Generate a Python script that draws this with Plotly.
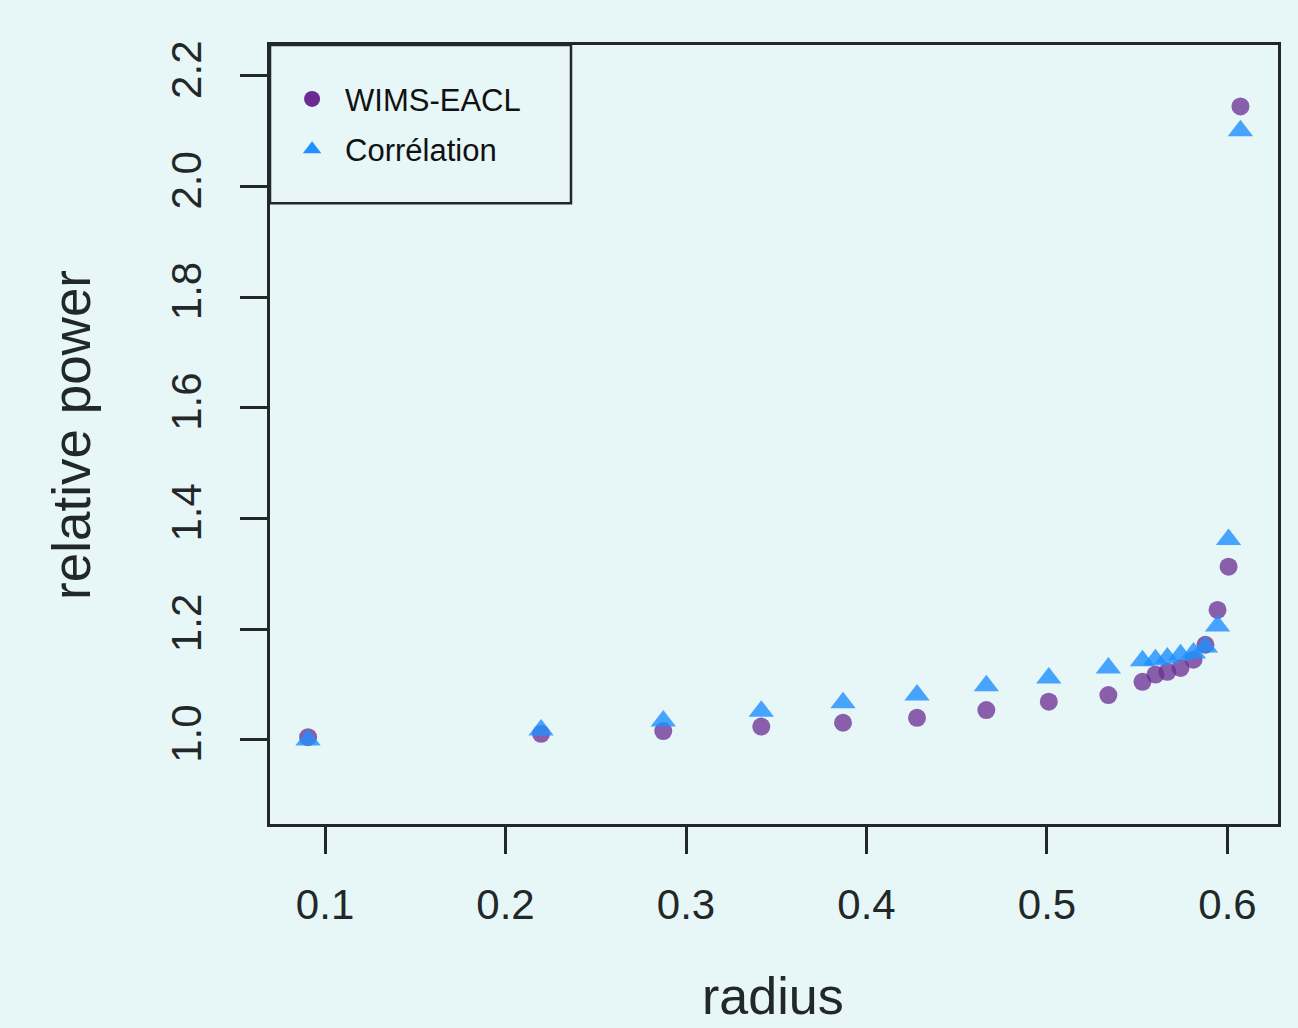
import plotly.graph_objects as go

radius = [0.0906, 0.2197, 0.2874, 0.3417, 0.3870, 0.4280, 0.4664, 0.5010, 0.5340,
          0.5529, 0.5601, 0.5667, 0.5740, 0.5812, 0.5878, 0.5945, 0.6006, 0.6072]
wims_eacl = [1.005, 1.011, 1.016, 1.024, 1.031, 1.040, 1.054, 1.069, 1.081,
             1.105, 1.118, 1.123, 1.130, 1.145, 1.172, 1.235, 1.313, 2.145]
correlation = [1.000, 1.018, 1.034, 1.052, 1.067, 1.081, 1.098, 1.112, 1.130,
               1.143, 1.145, 1.148, 1.154, 1.157, 1.168, 1.206, 1.362, 2.101]

x_ticks = [0.1, 0.2, 0.3, 0.4, 0.5, 0.6]
y_ticks = [1.0, 1.2, 1.4, 1.6, 1.8, 2.0, 2.2]
series_names = ["WIMS-EACL", "Corrélation"]

BG = "#e7f6f7"
INK = "#222828"
FONT = "Liberation Sans, Arial, Helvetica, sans-serif"
PURPLE = "rgba(106,44,145,0.75)"
BLUE = "rgba(30,144,255,0.8)"

fig = go.Figure()
fig.add_trace(go.Scatter(x=radius, y=wims_eacl, mode="markers", showlegend=False,
                         marker=dict(symbol="circle", size=18, color=PURPLE)))
fig.add_trace(go.Scatter(x=radius, y=correlation, mode="markers", showlegend=False,
                         marker=dict(symbol="triangle-up", size=22, color=BLUE)))
# legend-only entries (opaque like the reference legend)
fig.add_trace(go.Scatter(x=[None], y=[None], mode="markers", name=series_names[0],
                         legendgroup="a",
                         marker=dict(symbol="circle", size=16, color="rgb(106,44,145)")))
fig.add_trace(go.Scatter(x=[None], y=[None], mode="markers", name=series_names[1],
                         legendgroup="b",
                         marker=dict(symbol="triangle-up", size=16, color="rgb(30,144,255)")))

axis_common = dict(showline=True, mirror=True, linecolor=INK, linewidth=2.5,
                   showgrid=False, zeroline=False, ticks="outside", ticklen=27,
                   tickwidth=2.5, tickcolor=INK,
                   tickfont=dict(family=FONT, size=42, color=INK))

fig.update_xaxes(range=[0.0695, 0.628], tickvals=x_ticks,
                 ticktext=[f"{v:.1f}" for v in x_ticks], ticklabelstandoff=15,
                 **axis_common)
fig.update_yaxes(range=[0.848, 2.256], tickvals=y_ticks,
                 ticktext=[f"{v:.1f}" for v in y_ticks], tickangle=-90,
                 ticklabelstandoff=22, **axis_common)

fig.add_shape(type="rect", xref="paper", yref="paper", x0=0, x1=0.2986, y0=0.797, y1=1,
              line=dict(color=INK, width=2.5), fillcolor="rgba(0,0,0,0)", layer="above")

fig.add_annotation(text="relative power", xref="paper", yref="paper", x=-0.197, y=0.5,
                   xanchor="center", yanchor="middle", textangle=-90, showarrow=False,
                   font=dict(family=FONT, size=53, color=INK))
fig.add_annotation(text="radius", xref="paper", yref="paper", x=0.4995, y=-0.2208,
                   xanchor="center", yanchor="middle", showarrow=False, height=52,
                   font=dict(family=FONT, size=52, color=INK))

fig.update_layout(
    width=1298, height=1028,
    margin=dict(l=270, r=20, t=45, b=204),
    paper_bgcolor=BG, plot_bgcolor=BG,
    font=dict(family=FONT, color=INK),
    legend=dict(x=0.009, y=0.965, xanchor="left", yanchor="top",
                bgcolor="rgba(0,0,0,0)", borderwidth=0,
                font=dict(family=FONT, size=31, color="#111"),
                itemwidth=56, tracegroupgap=7, traceorder="grouped"),
)

fig.write_html("out.html", config={"displayModeBar": False},
               post_script="document.body.style.margin='0px';document.body.style.overflow='hidden';")
